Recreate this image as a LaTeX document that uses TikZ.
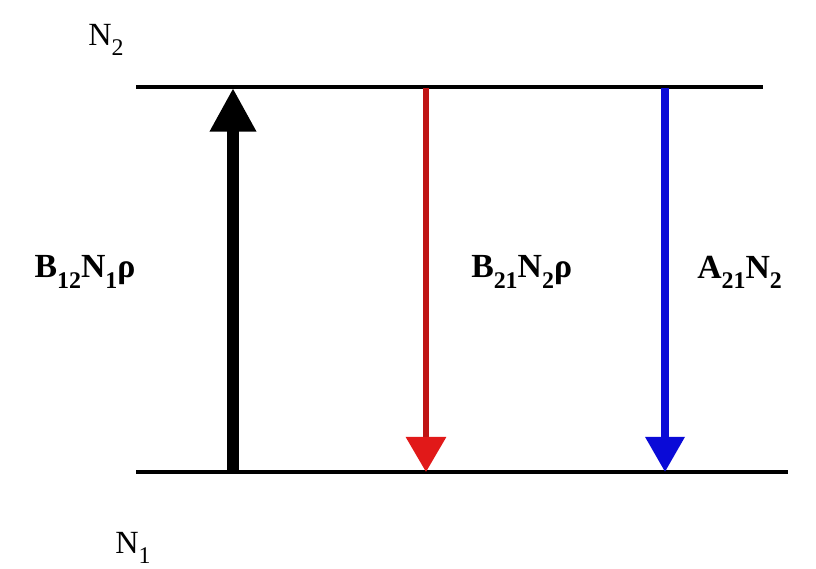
\documentclass[tikz,border=0pt]{standalone}
\usepackage{fontspec}
\setmainfont{Liberation Serif}
\usetikzlibrary{arrows.meta, positioning}
\definecolor{rojo}{RGB}{225,25,25}
\definecolor{azul}{RGB}{10,10,215}
\newcommand{\bajo}[1]{\raisebox{-0.3em}{\fontsize{17}{17}\selectfont #1}}

\begin{document}
\begin{tikzpicture}[
            x=0.025cm, y=-0.025cm,
            font=\fontsize{23}{27}\selectfont,
            nivel/.style={line width=2.7pt},
            etiqueta/.style={inner sep=0pt, font=\fontsize{24}{28}\selectfont\bfseries},
            poblacion/.style={inner sep=0pt}
        ]
        \useasboundingbox (0,0) rectangle (816,568);

        % --- Niveles de energía ---
        \coordinate (n2izq) at (136,87);
        \coordinate (n2der) at (763,87);
        \coordinate (n1izq) at (136,472);
        \coordinate (n1der) at (788,472);
        \draw[nivel] (n2izq) -- (n2der);
        \draw[nivel] (n1izq) -- (n1der);

        \node[poblacion] (N2) at (106,40) {N\bajo{2}};
        \node[poblacion] (N1) at (133,548) {N\bajo{1}};

        % --- Puntos de las transiciones ---
        \coordinate (absAbajo) at (233,472);
        \coordinate (absArriba) at (233,88);
        \coordinate (estArriba) at (426,88);
        \coordinate (estAbajo) at (426,472);
        \coordinate (espArriba) at (665,88);
        \coordinate (espAbajo) at (665,472);

        % --- Flechas ---
        \draw[line width=8.5pt, -{Triangle[width=31pt, length=31pt]}] (absAbajo) -- (absArriba);
        \draw[line width=4pt, rojo!85!black, -{Triangle[width=28pt, length=25pt, color=rojo]}] (estArriba) -- (estAbajo);
        \draw[line width=5pt, azul, -{Triangle[width=27pt, length=25pt]}] (espArriba) -- (espAbajo);

        % --- Etiquetas ---
        \node[etiqueta] (absorcion) at (85,272) {B\bajo{12}N\bajo{1}ρ};
        \node[etiqueta, anchor=west] (estimulada) at (471,272) {B\bajo{21}N\bajo{2}ρ};
        \node[etiqueta, anchor=west] (espontanea) at (697,272) {A\bajo{21}N\bajo{2}};

        \end{tikzpicture}
\end{document}
